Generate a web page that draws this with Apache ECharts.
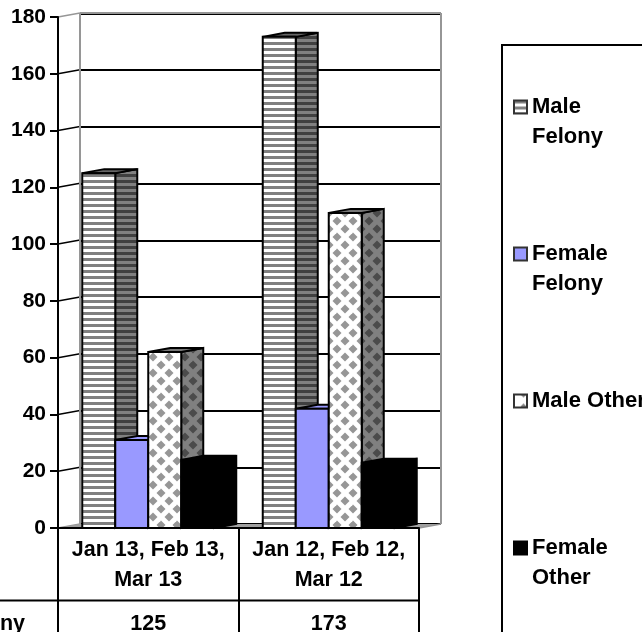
<!DOCTYPE html>
<html>
<head>
<meta charset="utf-8">
<style>html,body{margin:0;padding:0;background:#fff;overflow:hidden}#main{width:642px;height:632px}</style>
<script src="https://cdn.jsdelivr.net/npm/echarts@6/dist/echarts.min.js"></script>
</head>
<body>
<div id="main"></div>
<script>
// chart data
var categories = ['Jan 13, Feb 13,\nMar 13', 'Jan 12, Feb 12,\nMar 12'];
var seriesNames = ['Male Felony', 'Female Felony', 'Male Other', 'Female Other'];
var legendLabels = [' \nMale\nFelony', ' \nFemale\nFelony', 'Male Other', ' \nFemale\nOther'];
var maleFelony = [125, 173];
var femaleFelony = [31, 42];
var maleOther = [62, 111];
var femaleOther = [24, 23];
var yTicks = [0, 20, 40, 60, 80, 100, 120, 140, 160, 180];
var tableRowName = 'Male Felony';
var tableRowValues = ['125', '173'];

var FONT = '"Liberation Sans", Arial, sans-serif';
var DX = 22, DY = -4, BAR_W = 33;

// 填充图案
function stripes(bg, fg, period, h) {
	var c = document.createElement('canvas');
	c.width = 4; c.height = period;
	var g = c.getContext('2d');
	g.fillStyle = bg; g.fillRect(0, 0, 4, period);
	g.fillStyle = fg; g.fillRect(0, 0, 4, h);
	return {image: c, repeat: 'repeat'};
}
function diamonds(bg, fg, s, r, centers) {
	var c = document.createElement('canvas');
	c.width = s; c.height = s;
	var g = c.getContext('2d');
	g.fillStyle = bg; g.fillRect(0, 0, s, s);
	g.fillStyle = fg;
	centers.forEach(function(p) {
		[-s, 0, s].forEach(function(ox) {
			[-s, 0, s].forEach(function(oy) {
				var x = p[0] + ox, y = p[1] + oy;
				g.beginPath();
				g.moveTo(x, y - r); g.lineTo(x + r, y);
				g.lineTo(x, y + r); g.lineTo(x - r, y);
				g.closePath(); g.fill();
			});
		});
	});
	return {image: c, repeat: 'repeat'};
}

var DIAMOND_AT = [[9, 5], [1, 13]];
var faces = [
	{front: stripes('#fff', '#808080', 6, 3), side: stripes('#808080', '#404040', 6, 3), top: '#666'},
	{front: '#9999ff', side: '#4c4c80', top: '#9999ff'},
	{front: diamonds('#fff', '#969696', 16, 4.5, DIAMOND_AT), side: diamonds('#808080', '#4b4b4b', 16, 4.5, DIAMOND_AT), top: '#777'},
	{front: '#000', side: '#000', top: '#000'}
];
var swatches = [
	{color: faces[0].front, border: '#333'},
	{color: faces[1].front, border: '#333'},
	{color: diamonds('#fff', '#808080', 12, 3, [[9.5, 0]]), border: '#333'},
	{color: '#000', border: '#000'}
];
var values = [maleFelony, femaleFelony, maleOther, femaleOther];

function barSeries(i) {
	return {
		name: seriesNames[i],
		type: 'custom',
		xAxisIndex: 0,
		yAxisIndex: 0,
		itemStyle: {color: faces[i].front},
		data: values[i].map(function(v, k) { return [k, v]; }),
		renderItem: function(params, api) {
			var top = api.coord([api.value(0), api.value(1)]);
			var base = api.coord([api.value(0), 0]);
			var x0 = top[0] + (i - 2) * BAR_W, x1 = x0 + BAR_W;
			var f = faces[i], ln = {stroke: '#000', lineWidth: 2, lineJoin: 'miter'};
			function poly(pts, fill) {
				return {type: 'polygon', shape: {points: pts}, style: Object.assign({fill: fill}, ln)};
			}
			return {type: 'group', children: [
				poly([[x1, top[1]], [x1 + DX, top[1] + DY], [x1 + DX, base[1] + DY], [x1, base[1]]], f.side),
				poly([[x0, top[1]], [x0 + DX, top[1] + DY], [x1 + DX, top[1] + DY], [x1, top[1]]], f.top),
				poly([[x0, top[1]], [x1, top[1]], [x1, base[1]], [x0, base[1]]], f.front)
			]};
		}
	};
}

// 背景墙、地板和左侧斜线
var wallSeries = {
	type: 'custom',
	xAxisIndex: 0,
	yAxisIndex: 0,
	silent: true,
	data: yTicks.map(function(t) { return [0, t]; }),
	renderItem: function(params, api) {
		var cs = params.coordSys, p = api.coord([0, api.value(1)]);
		var v = api.value(1), edge = v === 0 || v === 180;
		var kids = [{
			type: 'line',
			shape: {x1: cs.x, y1: p[1], x2: cs.x + DX, y2: p[1] + DY},
			style: {stroke: edge ? '#969696' : '#000', lineWidth: 1.5}
		}];
		if (params.dataIndex === 0) {
			var bx = cs.x + DX, by = cs.y + DY, r = bx + cs.width, b = cs.y + cs.height + DY;
			kids.push(
				{type: 'polygon', shape: {points: [[cs.x, b - DY], [bx, b], [r, b], [r - DX, b - DY]]}, style: {fill: '#a0a0a0'}},
				{type: 'line', shape: {x1: bx, y1: by, x2: r, y2: by}, style: {stroke: '#969696', lineWidth: 2}, z2: 5},
				{type: 'line', shape: {x1: bx, y1: by, x2: bx, y2: b}, style: {stroke: '#969696', lineWidth: 2}, z2: 5},
				{type: 'line', shape: {x1: r, y1: by, x2: r, y2: b}, style: {stroke: '#969696', lineWidth: 2}, z2: 5},
				{type: 'line', shape: {x1: r, y1: b, x2: r - DX, y2: b - DY}, style: {stroke: '#969696', lineWidth: 1.5}, z2: 5}
			);
		}
		return {type: 'group', children: kids};
	}
};

var labelStyle = {color: '#000', fontFamily: FONT, fontWeight: 'bold', fontSize: 21.5};

var legends = [62, 209, 386, 503].map(function(top, i) {
	return {
		left: 513,
		top: top,
		padding: 0,
		orient: 'vertical',
		selectedMode: false,
		itemWidth: 13,
		itemHeight: 13,
		textStyle: Object.assign({lineHeight: 30}, labelStyle, {fontSize: 22}),
		data: [{
			name: seriesNames[i],
			icon: 'rect',
			itemStyle: {color: swatches[i].color, borderColor: swatches[i].border, borderWidth: 2}
		}],
		formatter: function() { return legendLabels[i]; }
	};
});

var option = {
	animation: false,
	backgroundColor: '#fff',
	legend: legends,
	grid: [
		{left: 58, top: 17, width: 361, height: 511, outerBoundsMode: 'none'},
		{left: 80, top: 13.5, width: 361, height: 510.5, outerBoundsMode: 'none'}
	],
	xAxis: [
		{
			type: 'category',
			gridIndex: 0,
			data: categories,
			axisLine: {lineStyle: {color: '#000', width: 2}},
			axisTick: {show: true, length: 104, lineStyle: {color: '#000', width: 2}},
			axisLabel: Object.assign({margin: 7, lineHeight: 30, interval: 0}, labelStyle),
			z: 6
		},
		{
			type: 'category',
			gridIndex: 0,
			position: 'bottom',
			offset: 72,
			data: tableRowValues,
			axisLine: {show: false},
			axisTick: {show: false},
			axisLabel: Object.assign({margin: 13, interval: 0}, labelStyle)
		},
		{type: 'category', gridIndex: 1, show: false, data: categories}
	],
	yAxis: [
		{
			type: 'value',
			gridIndex: 0,
			min: 0,
			max: 180,
			interval: 20,
			axisLine: {show: true, lineStyle: {color: '#000', width: 2}},
			axisTick: {show: true, length: 8, lineStyle: {color: '#000', width: 2}},
			axisLabel: Object.assign({margin: 12, padding: [3, 0, 0, 0]}, labelStyle, {fontSize: 21}),
			splitLine: {show: false},
			z: 6
		},
		{
			type: 'value',
			gridIndex: 1,
			min: 0,
			max: 180,
			interval: 20,
			axisLine: {show: false},
			axisTick: {show: false},
			axisLabel: {show: false},
			splitLine: {show: true, lineStyle: {color: '#000', width: 2}}
		}
	],
	series: [wallSeries].concat(seriesNames.map(function(n, i) { return barSeries(i); })),
	graphic: [
		{type: 'rect', silent: true, shape: {x: 502, y: 45, width: 170, height: 620}, style: {fill: 'none', stroke: '#000', lineWidth: 2}},
		{type: 'line', silent: true, shape: {x1: 0, y1: 600.5, x2: 419, y2: 600.5}, style: {stroke: '#000', lineWidth: 2}},
		{type: 'text', silent: true, style: {x: 25, y: 624, text: tableRowName, align: 'right', verticalAlign: 'middle', fill: '#000', font: 'bold 21.5px ' + FONT}}
	]
};

echarts.init(document.getElementById('main')).setOption(option);
</script>
</body>
</html>
